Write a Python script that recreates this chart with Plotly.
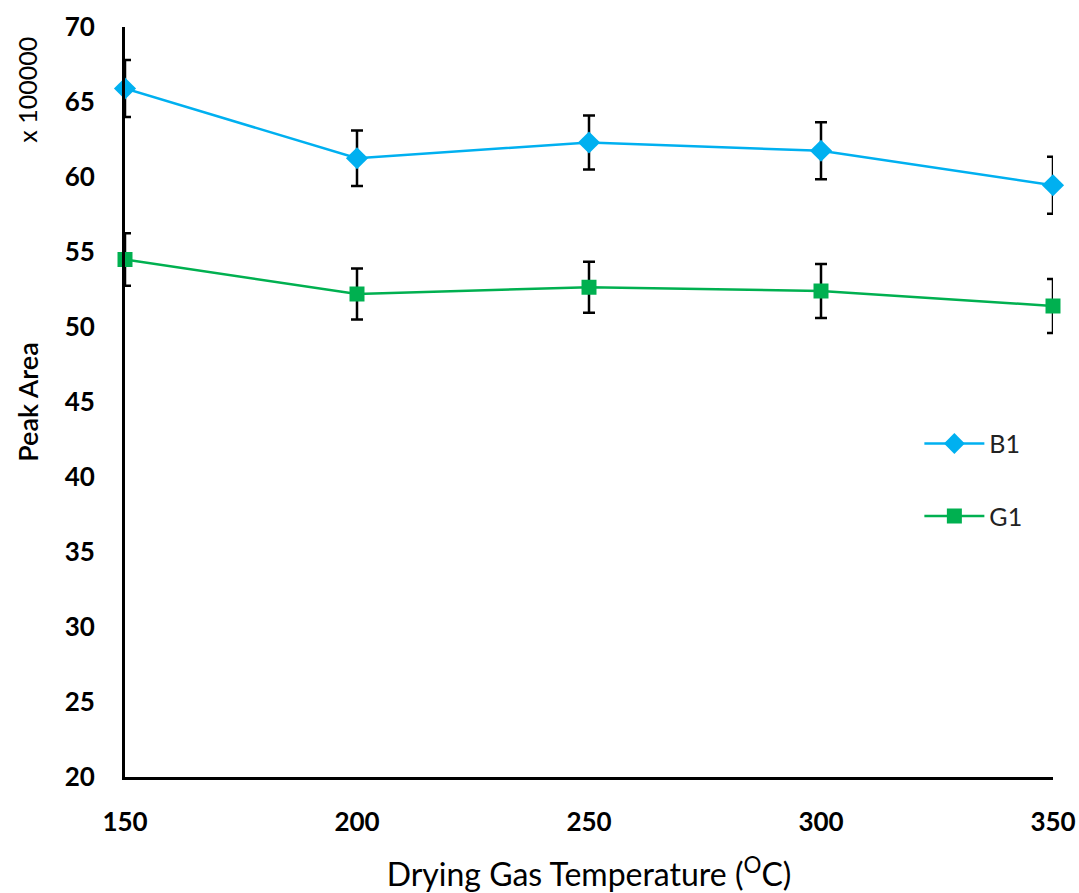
import plotly.graph_objects as go

temps = [150, 200, 250, 300, 350]
b1 = [65.9, 61.25, 62.3, 61.75, 59.45]
b1_err = [1.9, 1.85, 1.8, 1.9, 1.9]
g1 = [54.5, 52.2, 52.65, 52.4, 51.4]
g1_err = [1.75, 1.7, 1.7, 1.8, 1.8]

FONT = "Lato"

fig = go.Figure()
fig.add_trace(go.Scatter(
    x=temps, y=b1, name="B1", mode="lines+markers",
    line=dict(color="#00B0F0", width=2.5),
    marker=dict(symbol="diamond", size=17, color="#00B0F0"),
    error_y=dict(type="data", array=b1_err, color="black", thickness=2.5, width=6),
    cliponaxis=False, legendgroup="b1",
))
fig.add_trace(go.Scatter(
    x=temps, y=g1, name="G1", mode="lines+markers",
    line=dict(color="#00B050", width=2.5),
    marker=dict(symbol="square", size=15, color="#00B050"),
    error_y=dict(type="data", array=g1_err, color="black", thickness=2.5, width=6),
    cliponaxis=False, legendgroup="g1",
))

fig.update_layout(
    width=1079, height=893,
    margin=dict(l=125, r=26, t=27, b=116),
    paper_bgcolor="white", plot_bgcolor="white",
    font=dict(family=FONT, color="black", size=24),
    showlegend=True,
    legend=dict(x=0.856, y=0.475, xanchor="left", yanchor="top",
                font=dict(family=FONT, size=25, color="#222"),
                itemwidth=60,
                tracegroupgap=37, bgcolor="rgba(0,0,0,0)"),
    xaxis=dict(range=[150, 350], tickvals=temps, showgrid=False, zeroline=False,
               automargin=False,
               showline=True, linecolor="black", linewidth=3, ticks="",
               tickfont=dict(family=FONT, size=26, color="black", weight="bold"),
               ticklabelstandoff=20,
               title=dict(text="Drying Gas Temperature (<sup>O</sup>C)",
                          font=dict(family=FONT, size=32, color="black"), standoff=34)),
    yaxis=dict(range=[20, 70], dtick=5, showgrid=False, zeroline=False,
               automargin=False,
               showline=True, linecolor="black", linewidth=3, ticks="",
               tickfont=dict(family=FONT, size=26, color="black", weight="bold"),
               ticklabelstandoff=22,
               title=dict(text="Peak Area",
                          font=dict(family=FONT, size=27, color="black", weight=600), standoff=19)),
)

fig.add_annotation(text="x 100000", xref="paper", yref="paper",
                   x=-0.106, y=0.916, textangle=-90, showarrow=False,
                   xanchor="center", yanchor="middle",
                   font=dict(family=FONT, size=25, color="black"))

fig.write_html("out.html")
